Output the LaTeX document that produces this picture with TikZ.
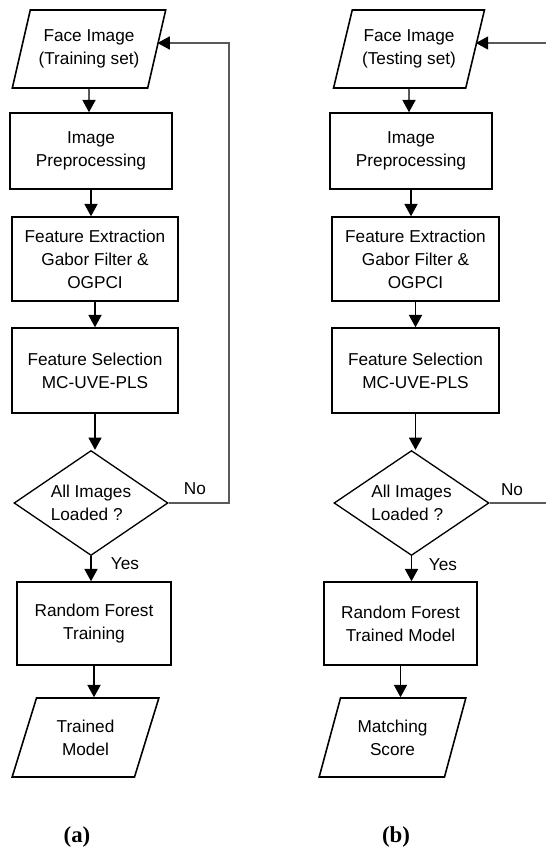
\documentclass[tikz,border=0pt]{standalone}
\usepackage{fontspec}
\setmainfont{Liberation Sans}
\newfontfamily\capfont{Liberation Serif}
\usetikzlibrary{shapes.geometric,arrows.meta}

\begin{document}
\begin{tikzpicture}[x=0.02cm,y=-0.02cm,font=\fontsize{9.8}{13}\selectfont]
	\tikzstyle{io}=[trapezium,draw=black,line width=0.9pt,trapezium left angle=68,trapezium right angle=112,trapezium stretches=true,minimum width=3.08cm,minimum height=1.56cm,align=center,inner sep=0pt]
	\tikzstyle{proc}=[rectangle,draw=black,line width=0.9pt,minimum width=3.24cm,minimum height=1.52cm,align=center]
	\tikzstyle{check}=[diamond,draw=black,line width=0.75pt,aspect=1.47,minimum width=3.08cm,minimum height=2.1cm,align=left,inner sep=0pt]
	\tikzstyle{flow}=[-{Triangle[length=7pt,width=7.5pt,color=black]},line width=0.6pt]
	\tikzstyle{back}=[line width=0.6pt,draw=black!65]
	\useasboundingbox (0,0) rectangle (546,849);
	% (a) training
	\node[io](a1) at (89,49){Face Image\\(Training set)};
	\node[proc](a2) at (91,151){Image\\Preprocessing};
	\node[proc,minimum width=3.32cm,minimum height=1.68cm](a3) at (95,259){Feature Extraction\\Gabor Filter \&\\OGPCI};
	\node[proc,minimum width=3.32cm,minimum height=1.7cm](a4) at (95,370.5){Feature Selection\\MC-UVE-PLS};
	\node[check](a5) at (91,503){All Images\\Loaded ?};
	\node[proc,minimum width=3.08cm,minimum height=1.66cm](a6) at (94,623.5){Random Forest\\Training};
	\node[io,minimum width=2.94cm,minimum height=1.58cm](a7) at (85.5,737.5){Trained\\Model};
	\node(ano) at (195,489){No};
	\node(ayes) at (125,564){Yes};
	\node(acap) at (77,837){\capfont\bfseries\fontsize{13}{15}\selectfont (a)};
	\coordinate(aback) at (229,43);
	\path[flow]
		(a1) edge (a1 |- a2.north)
		(a2) edge (a2 |- a3.north)
		(a3) edge (a3 |- a4.north)
		(a4) edge (a4 |- a5.north)
		(a5) edge (a5 |- a6.north)
		(a6) edge (a6 |- a7.north);
	\draw[back,flow] (a5.east) -| (aback) -- (a1.east |- aback);
	% (b) testing
	\node[io,minimum width=3.04cm](b1) at (409,49){Face Image\\(Testing set)};
	\node[proc](b2) at (411,151){Image\\Preprocessing};
	\node[proc,minimum width=3.34cm,minimum height=1.68cm](b3) at (415.5,259){Feature Extraction\\Gabor Filter \&\\OGPCI};
	\node[proc,minimum width=3.34cm,minimum height=1.7cm](b4) at (415.5,370.5){Feature Selection\\MC-UVE-PLS};
	\node[check,minimum width=3.1cm](b5) at (411.5,503){All Images\\Loaded ?};
	\node[proc,minimum width=3.06cm,minimum height=1.66cm](b6) at (400.5,623.5){Random Forest\\Trained Model};
	\node[io,minimum width=2.94cm,minimum height=1.58cm](b7) at (392.5,737.5){Matching\\Score};
	\node(bno) at (512,490){No};
	\node(byes) at (443,565){Yes};
	\node(bcap) at (396,837){\capfont\bfseries\fontsize{13}{15}\selectfont (b)};
	\coordinate(bin) at (546,43);
	\coordinate(bout) at (546,503);
	\path[flow]
		(b1) edge (b1 |- b2.north)
		(b2) edge (b2 |- b3.north)
		(b3) edge (b3 |- b4.north)
		(b4) edge (b4 |- b5.north)
		(b5) edge (b5 |- b6.north)
		(b6) edge (b6 |- b7.north);
	\draw[back,flow] (bin) -- (b1.east |- bin);
	\draw[back] (b5.east) -- (bout);
\end{tikzpicture}
\end{document}
